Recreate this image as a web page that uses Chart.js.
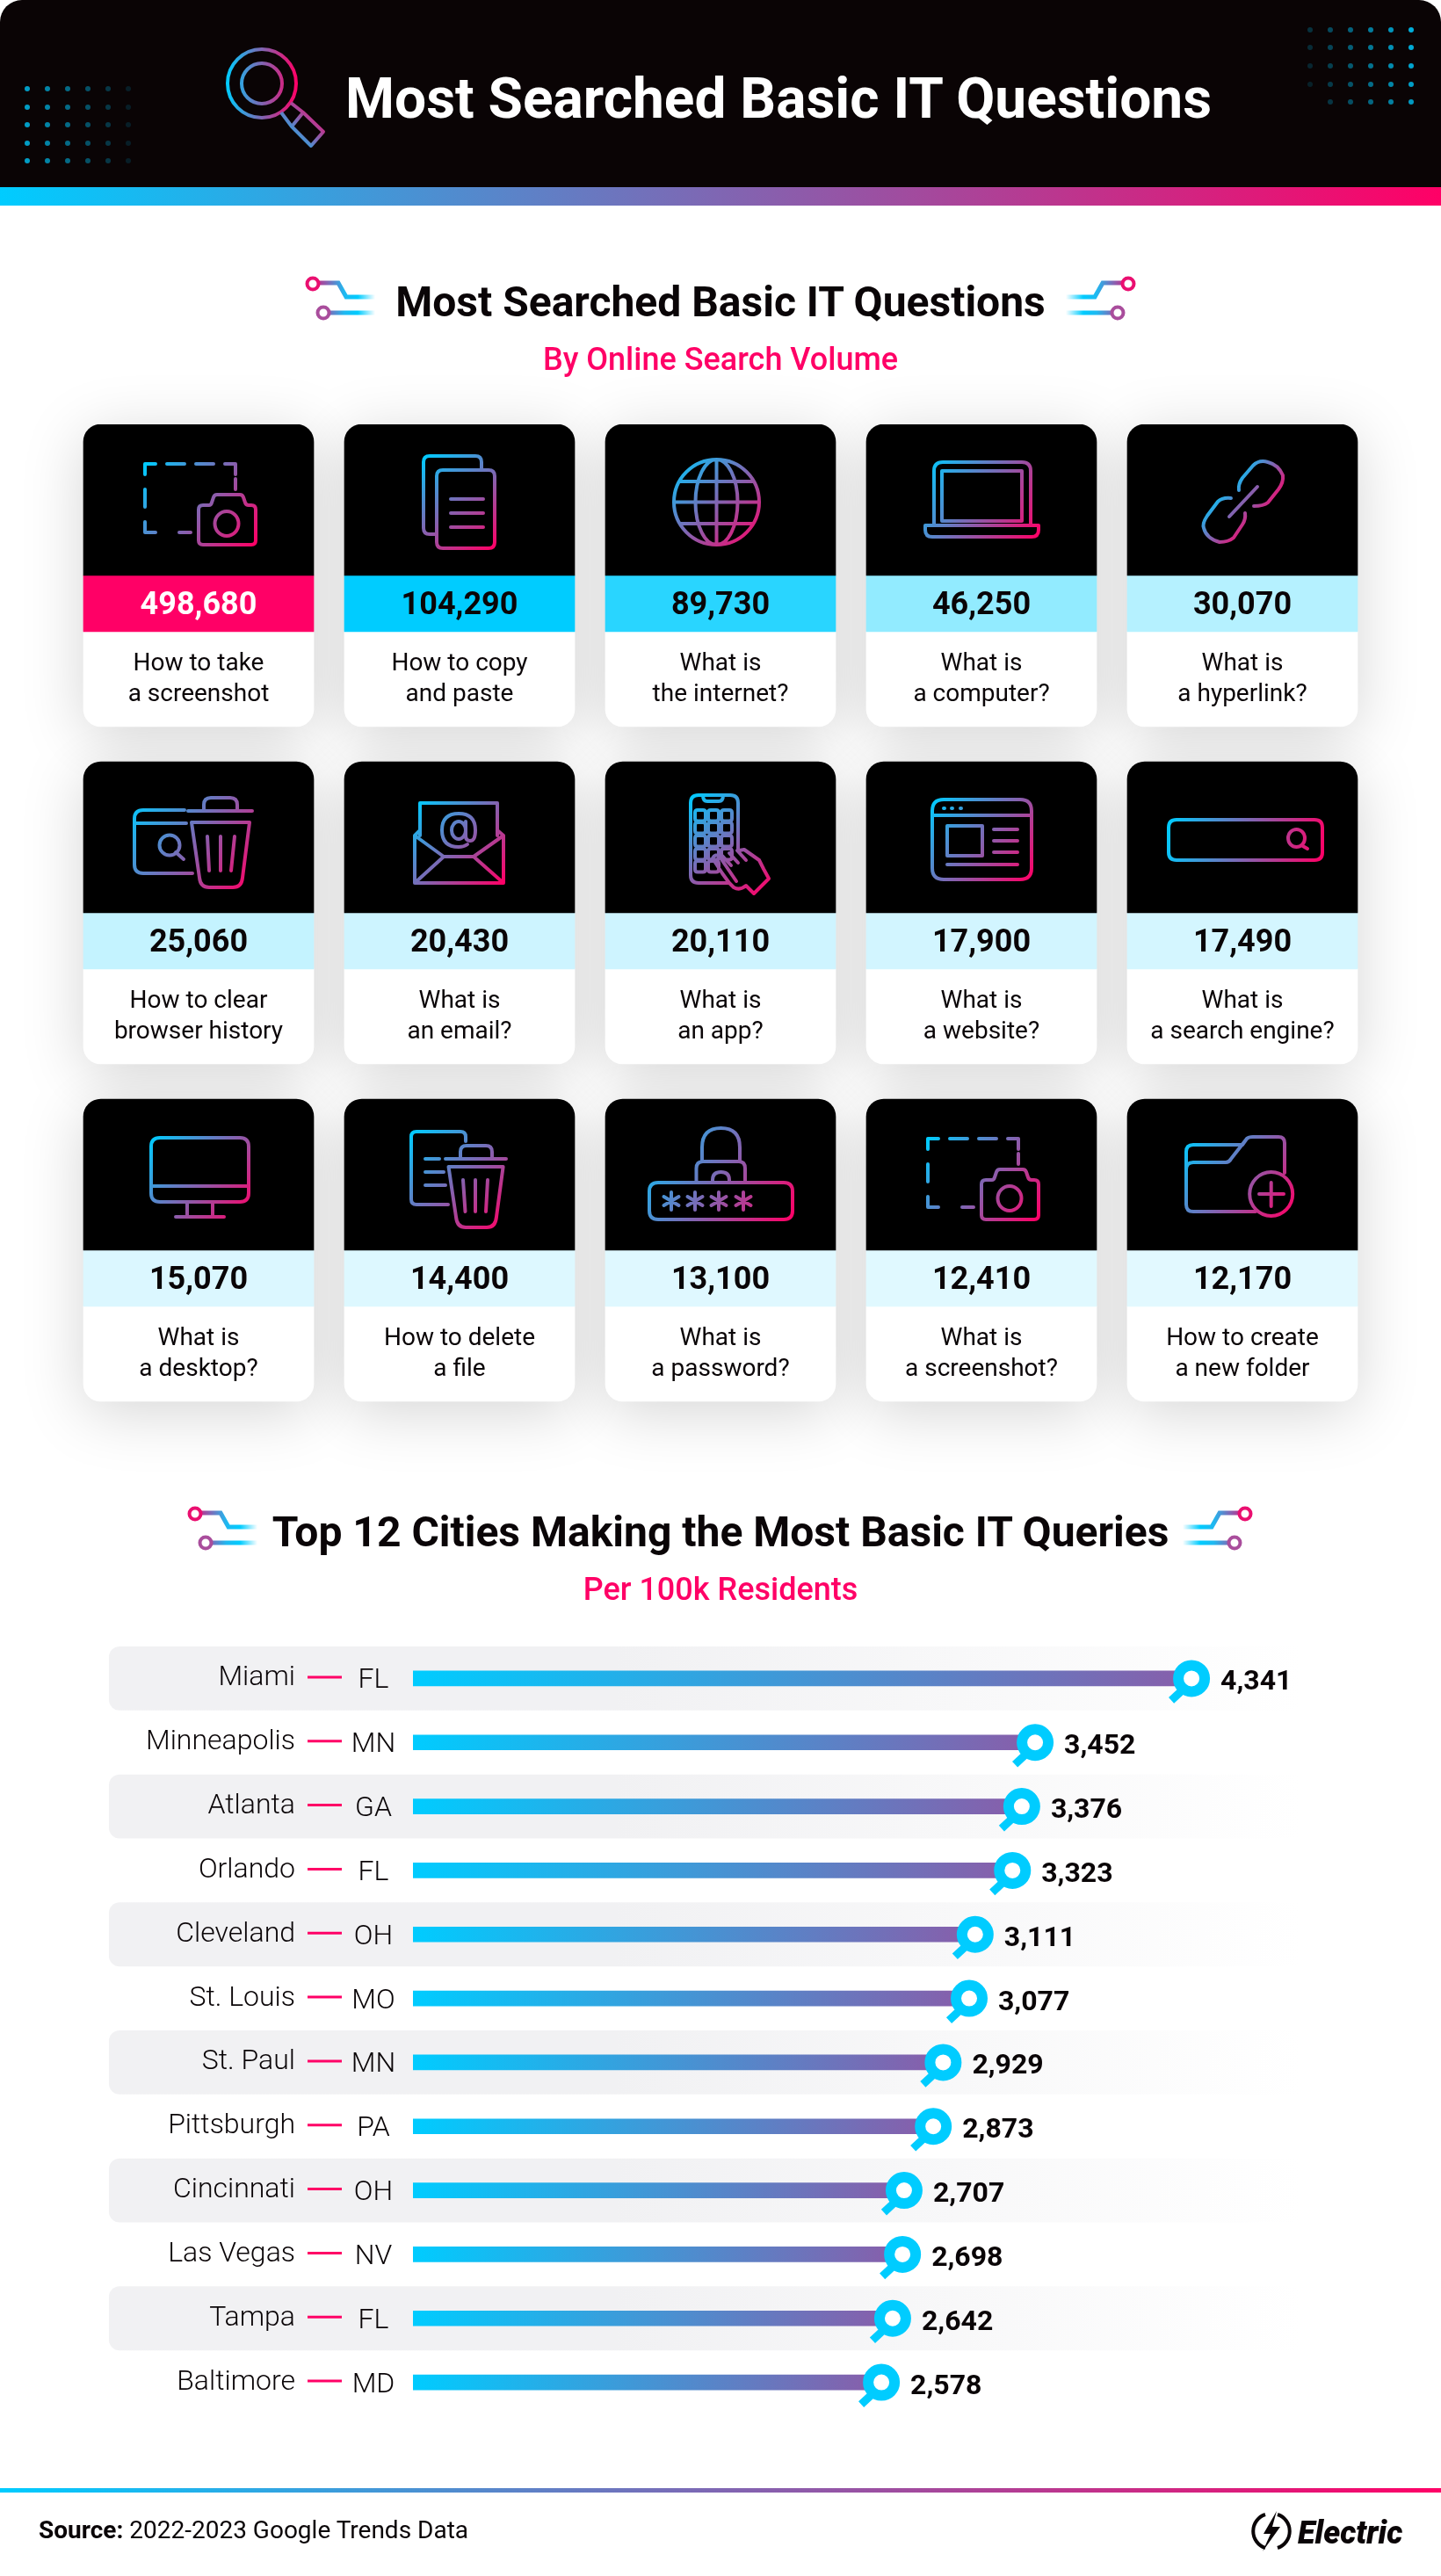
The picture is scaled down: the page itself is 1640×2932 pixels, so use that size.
<!DOCTYPE html>
<html>
<head>
<meta charset="utf-8">
<title>Most Searched Basic IT Questions</title>
<script src="https://cdn.jsdelivr.net/npm/chart.js@4"></script>
<style>
    html, body { margin: 0; padding: 0; background: #fff; }
    body { position: relative; width: 1640px; height: 2932px; overflow: hidden; font-family: Roboto, sans-serif; color: #0a0507; }
    .abs { position: absolute; line-height: 1; white-space: nowrap; }
    .center { left: 0; width: 1640px; text-align: center; }
    .head-bg { position: absolute; left: 0; top: 0; width: 1640px; height: 213px; background: #0a0405; border-radius: 25px 25px 0 0; }
    .strip { position: absolute; left: 0; width: 1640px; background: linear-gradient(90deg, #00ccff, #ff0066); }
    canvas { position: absolute; left: 0; }
    svg { position: absolute; left: 0; top: 0; }
</style>
</head>
<body>
<div class="head-bg"></div>
<div class="strip" style="top:213px;height:21px"></div>
<div class="strip" style="top:2832px;height:5px"></div>

<canvas id="cardChart" width="1640" height="1300" style="top:400px"></canvas>
<canvas id="cityChart" width="1640" height="874" style="top:1874px"></canvas>
<svg id="decor" width="1640" height="2932" viewBox="0 0 1640 2932" fill="none"></svg>

<div class="abs" style="left:393px;top:81px;font-size:64px;font-weight:700;color:#fff">Most Searched Basic IT Questions</div>
<div class="abs center" style="top:320px;font-size:48px;font-weight:700">Most Searched Basic IT Questions</div>
<div class="abs center" style="top:391px;font-size:36px;font-weight:500;color:#ff0066">By Online Search Volume</div>
<div class="abs center" style="top:1720px;font-size:48px;font-weight:700">Top 12 Cities Making the Most Basic IT Queries</div>
<div class="abs center" style="top:1791px;font-size:36px;font-weight:500;color:#ff0066">Per 100k Residents</div>
<div class="abs" style="left:44px;top:2866px;font-size:28px"><b>Source:</b> 2022-2023 Google Trends Data</div>
<div class="abs" style="left:1477px;top:2865px;font-size:36px;font-weight:900;font-style:italic">Electric</div>

<script>
// Search volume cards
const searchVolumes = [498680, 104290, 89730, 46250, 30070, 25060, 20430, 20110, 17900, 17490, 15070, 14400, 13100, 12410, 12170];
const searchQuestions = [
    ['How to take', 'a screenshot'], ['How to copy', 'and paste'], ['What is', 'the internet?'], ['What is', 'a computer?'], ['What is', 'a hyperlink?'],
    ['How to clear', 'browser history'], ['What is', 'an email?'], ['What is', 'an app?'], ['What is', 'a website?'], ['What is', 'a search engine?'],
    ['What is', 'a desktop?'], ['How to delete', 'a file'], ['What is', 'a password?'], ['What is', 'a screenshot?'], ['How to create', 'a new folder']
];
const bandColours = ['#ff0066', '#00ccff', '#29d5ff', '#92ebff', '#b5f1ff', '#c4f3ff', '#cdf4ff', '#cef4ff', '#d2f5ff', '#d4f6ff', '#dbf7ff', '#ddf8ff', '#dff8ff', '#e0f9ff', '#e2f9ff'];
const cardColumns = ['1', '2', '3', '4', '5'];
const cardRows = [0, 1, 2];

// Cities per 100k residents
const cityNames = ['Miami', 'Minneapolis', 'Atlanta', 'Orlando', 'Cleveland', 'St. Louis', 'St. Paul', 'Pittsburgh', 'Cincinnati', 'Las Vegas', 'Tampa', 'Baltimore'];
const cityStates = ['FL', 'MN', 'GA', 'FL', 'OH', 'MO', 'MN', 'PA', 'OH', 'NV', 'FL', 'MD'];
const cityQueries = [4341, 3452, 3376, 3323, 3111, 3077, 2929, 2873, 2707, 2698, 2642, 2578];

const CYAN = '#00ccff';
const PINK = '#ff0066';
const INK = '#0a0507';

// Icon path helpers, coordinates are relative to the card
function rr(x, y, w, h, r) {
    return `M${x + r} ${y}H${x + w - r}Q${x + w} ${y} ${x + w} ${y + r}V${y + h - r}Q${x + w} ${y + h} ${x + w - r} ${y + h}H${x + r}Q${x} ${y + h} ${x} ${y + h - r}V${y + r}Q${x} ${y} ${x + r} ${y}Z`;
}
function ell(cx, cy, rx, ry) {
    return `M${cx - rx} ${cy}A${rx} ${ry} 0 1 0 ${cx + rx} ${cy}A${rx} ${ry} 0 1 0 ${cx - rx} ${cy}Z`;
}
function star(cx, cy) {
    return `M${cx} ${cy - 10}V${cy + 10}M${cx - 8.5} ${cy - 5}L${cx + 8.5} ${cy + 5}M${cx - 8.5} ${cy + 5}L${cx + 8.5} ${cy - 5}`;
}

const shotIcon = 'M70 57V45H82M95 45H115M128 45H148M161 45H173V57M173 62V74M70 74V94M70 111V123H82M109 123H122' +
    'M136 92H143Q145 92 146 89L148 83Q149 80 152 80H178Q181 80 182 83L184 89Q185 92 188 92H191Q196 92 196 97V132Q196 137 191 137H136Q131 137 131 132V97Q131 92 136 92Z' + ell(163, 113, 13.5, 14);

let appGrid = '';
[108, 123, 138].forEach((x, c) => {
    [61, 75, 90, 105, 119].forEach((y, r) => {
        if (r < 4 || c < 2) appGrid += rr(x - 6, y - 6, 12, 12.5, 3);
    });
});

// every icon is a list of [path, gradient box] parts
const cardIcons = [
    [[shotIcon, [70, 45, 196, 137]]],
    [['M105 125H97Q90 125 90 118V43Q90 36 97 36H149Q156 36 156 43V52' + rr(105, 52, 66, 89, 7) + 'M121 85H158M121 101H158M121 117H158', [90, 36, 171, 141]]],
    [[ell(126.5, 88.5, 48.5, 48.5) + ell(126.5, 88.5, 24, 48.5) + 'M126.5 40V137M78 88.5H175M85 65H168M85 113H168', [78, 40, 175, 137]]],
    [['M77 115V53Q77 43 87 43H177Q187 43 187 53V115M86 53H177V110H86ZM67 115H196V120Q196 128 188 128H75Q67 128 67 120Z', [67, 43, 196, 128]]],
    [
        ['M127 75Q126 68 131 61L143 47Q150 40 160 43Q172 46 177 58Q178 66 172 74L160 89Q155 93 144 93', [125, 50, 178, 85]],
        ['M118 84Q108 83 103 88L91 104Q85 113 87 118Q90 130 105 134Q115 134 121 129L131 114Q135 108 134 101', [88, 90, 134, 132]],
        ['M148 71L116 105', [70, 40, 190, 130]]
    ],
    [['M115 55H68Q58 55 58 65V117Q58 127 68 127H124M58 70H117' + ell(98, 95, 11.5, 11.5) + 'M105 103L114 111M119 56H192M137 56V49Q137 41 145 41H167Q175 41 175 49V56M123 69H189L181 132Q180 143 170 143H143Q133 143 132 132ZM141 85L143 124M156 85V124M172 85L168 124', [58, 41, 192, 143]]],
    [['M86 84V47H174V84M86 78L80 84V138H181V84L174 78M80 84L113 108H147L181 84M80 138L113 108M147 108L181 138' + ell(130, 78, 8, 10) + 'M138 68V84Q138 90 143 90Q149 90 149 78Q149 59 130 59Q111 59 111 78Q111 97 130 97Q136 97 140 94', [80, 47, 181, 138]]],
    [['M140 138H106Q97 138 97 129V47Q97 38 106 38H142Q151 38 151 47V100M111 38Q111 45 116 45H129Q134 45 134 38' + appGrid + 'M122 110Q125 104 130 108L149 136M122 110L133 127L141 138L146 143Q153 147 160 141L169 150L186 133L180 122L175 112L158 100L152 101M133 107L143 118M141 104L151 115M150 101L160 112', [97, 38, 186, 150]]],
    [[rr(75, 43, 113, 91, 13) + 'M75 61H188M92 73H132V107H92ZM145 77H172M145 90H172M145 103H172M92 117H172M88 53H89M97 53H98M107 53H108', [75, 43, 188, 134]]],
    [[rr(47, 66, 175, 46, 9) + ell(192.5, 87, 9.5, 10) + 'M198 95L205 99', [47, 66, 222, 112]]],
    [[rr(77, 44, 111, 73, 10) + 'M77 99H188M118 117V134M147 117V134M105 134H160', [77, 44, 188, 134]]],
    [['M118 120H82Q76 120 76 114V43Q76 37 82 37H132Q138 37 138 43V48M92 68H108M92 83H113M92 98H115M115 68H184M132 68V60Q132 53 139 53H161Q168 53 168 60V68M118.5 77H180.6L173 134Q172 146 162 146H138Q128 146 127 134ZM135 92L137.5 128M149 92V128M163 92L161 128', [76, 37, 184, 146]]],
    [[rr(50, 95, 163, 42, 10) + 'M110 71V55Q110 33 131.5 33Q153 33 153 55V71M103.5 95V79Q103.5 71 111 71H152Q159 71 159 79V95M122 95V92Q122 83 131.5 83Q141 83 141 92V95' + star(75, 116) + star(102, 116) + star(129, 116) + star(157, 116), [50, 33, 213, 137]]],
    [[shotIcon, [70, 45, 196, 137]]],
    [['M146 128H75Q67 128 67 120V60Q67 52 75 52H131L136 45Q138 43 143 43H172Q179 43 179 50V84M136 45L118 68Q116 72 112 72H75Q67 72 67 80' + ell(163.7, 108, 24.5, 25) + 'M150 108H178M163.7 95V122', [67, 43, 188, 133]]]
];

// Floating bars build the three parts of every card
const HEAD_END = 172 / 384;
const BAND_END = 236 / 384;
const CARD_END = 344 / 384;
const cardDatasets = [];
cardRows.forEach(row => {
    const rowColours = bandColours.slice(row * 5, row * 5 + 5);
    cardDatasets.push({ data: cardColumns.map(() => [row, row + HEAD_END]), backgroundColor: '#000', borderSkipped: false, borderRadius: { topLeft: 20, topRight: 20, bottomLeft: 0, bottomRight: 0 }, barThickness: 262, grouped: false });
    cardDatasets.push({ data: cardColumns.map(() => [row + HEAD_END, row + BAND_END]), backgroundColor: rowColours, barThickness: 262, grouped: false, borderSkipped: false });
    cardDatasets.push({ data: cardColumns.map(() => [row + BAND_END, row + CARD_END]), backgroundColor: '#fff', borderSkipped: false, borderRadius: { topLeft: 0, topRight: 0, bottomLeft: 20, bottomRight: 20 }, barThickness: 262, grouped: false });
});

const cardPlugin = {
    id: 'cardPlugin',
    beforeDatasetsDraw(chart) {
        const { ctx, scales: { y } } = chart;
        const head = chart.getDatasetMeta(0).data;
        ctx.save();
        ctx.shadowColor = 'rgba(0, 0, 0, 0.17)';
        ctx.shadowBlur = 70;
        ctx.shadowOffsetY = 12;
        ctx.fillStyle = '#fff';
        cardRows.forEach(row => {
            head.forEach(el => {
                const top = y.getPixelForValue(row);
                ctx.beginPath();
                ctx.roundRect(el.x - 131, top, 262, y.getPixelForValue(row + CARD_END) - top, 20);
                ctx.fill();
            });
        });
        ctx.restore();
    },
    afterDatasetsDraw(chart) {
        const { ctx, scales: { y } } = chart;
        ctx.save();
        ctx.textAlign = 'center';
        cardRows.forEach(row => {
            const top = y.getPixelForValue(row);
            chart.getDatasetMeta(row * 3).data.forEach((el, col) => {
                const i = row * 5 + col;
                const left = el.x - 131;

                // value band
                ctx.fillStyle = i === 0 ? '#fff' : INK;
                ctx.font = '700 36px Roboto';
                ctx.fillText(searchVolumes[i].toLocaleString('en-US'), el.x, top + 216);

                // question
                ctx.fillStyle = INK;
                ctx.font = '400 28px Roboto';
                ctx.fillText(searchQuestions[i][0], el.x, top + 280);
                ctx.fillText(searchQuestions[i][1], el.x, top + 315);

                // icon
                ctx.save();
                ctx.translate(left, top);
                ctx.lineWidth = 4;
                ctx.lineCap = 'round';
                ctx.lineJoin = 'round';
                cardIcons[i].forEach(([path, box]) => {
                    const grad = ctx.createLinearGradient(box[0], box[1], box[2], box[3]);
                    grad.addColorStop(0, CYAN);
                    grad.addColorStop(1, PINK);
                    ctx.strokeStyle = grad;
                    ctx.stroke(new Path2D(path));
                });
                ctx.restore();
            });
        });
        ctx.restore();
    }
};

new Chart(document.getElementById('cardChart'), {
    type: 'bar',
    data: { labels: cardColumns, datasets: cardDatasets },
    options: {
        responsive: false,
        animation: false,
        devicePixelRatio: 1,
        layout: { padding: { left: 77.5, right: 77.5, top: 83, bottom: 65 } },
        plugins: { legend: { display: false }, tooltip: { enabled: false } },
        scales: {
            x: { display: false },
            y: { display: false, min: 0, max: 3, reverse: true }
        }
    },
    plugins: [cardPlugin]
});

// Stripes, state codes, magnifiers and value labels of the city chart
const cityPlugin = {
    id: 'cityPlugin',
    beforeDraw(chart) {
        const { ctx, scales: { y } } = chart;
        const stripe = ctx.createLinearGradient(700, 0, 1480, 0);
        stripe.addColorStop(0, '#f1f1f3');
        stripe.addColorStop(1, '#ffffff');
        const half = (y.getPixelForValue(1) - y.getPixelForValue(0)) / 2;
        ctx.save();
        cityNames.forEach((name, i) => {
            if (i % 2 === 0) {
                ctx.fillStyle = stripe;
                ctx.beginPath();
                ctx.roundRect(124, y.getPixelForValue(i) - half, 1356, half * 2, [12, 0, 0, 12]);
                ctx.fill();
            }
        });
        ctx.restore();
    },
    afterDatasetsDraw(chart) {
        const { ctx, scales: { y } } = chart;
        ctx.save();
        chart.getDatasetMeta(0).data.forEach((bar, i) => {
            const cy = y.getPixelForValue(i);

            ctx.strokeStyle = PINK;
            ctx.lineWidth = 3;
            ctx.beginPath();
            ctx.moveTo(350, cy - 1.5);
            ctx.lineTo(389, cy - 1.5);
            ctx.stroke();

            ctx.fillStyle = INK;
            ctx.font = '300 32px Roboto';
            ctx.textAlign = 'center';
            ctx.textBaseline = 'alphabetic';
            ctx.fillText(cityStates[i], 425, cy + 11);

            // magnifier at the end of the bar
            const mx = bar.x + 17;
            ctx.strokeStyle = CYAN;
            ctx.lineWidth = 9;
            ctx.beginPath();
            ctx.moveTo(mx - 9, cy + 12);
            ctx.lineTo(mx - 23, cy + 25);
            ctx.stroke();
            ctx.fillStyle = '#fff';
            ctx.lineWidth = 12;
            ctx.beginPath();
            ctx.arc(mx, cy, 15, 0, Math.PI * 2);
            ctx.fill();
            ctx.stroke();

            ctx.fillStyle = INK;
            ctx.font = '700 32px Roboto';
            ctx.textAlign = 'left';
            ctx.fillText(cityQueries[i].toLocaleString('en-US'), bar.x + 50, cy + 13);
        });
        ctx.restore();
    }
};

new Chart(document.getElementById('cityChart'), {
    type: 'bar',
    data: {
        labels: cityNames,
        datasets: [{
            data: cityQueries,
            barThickness: 17,
            backgroundColor: function(context) {
                const chart = context.chart;
                if (!chart.chartArea || context.raw === undefined) return CYAN;
                const x = chart.scales.x;
                const grad = chart.ctx.createLinearGradient(x.getPixelForValue(0), 0, x.getPixelForValue(context.raw), 0);
                grad.addColorStop(0, CYAN);
                grad.addColorStop(1, '#8560ac');
                return grad;
            }
        }]
    },
    options: {
        indexAxis: 'y',
        responsive: false,
        animation: false,
        devicePixelRatio: 1,
        layout: { padding: { left: 0, right: 169, top: 0, bottom: 0 } },
        plugins: { legend: { display: false }, tooltip: { enabled: false } },
        scales: {
            x: { display: false, min: 0, max: 5000 },
            y: {
                // tick padding also pads the axis ends, only the width is wanted
                afterFit(scale) {
                    scale.width = 470;
                    scale.paddingTop = 0;
                    scale.paddingBottom = 0;
                },
                grid: { display: false },
                border: { display: false },
                ticks: { autoSkip: false, padding: 126, color: INK, font: { family: 'Roboto', size: 32, weight: '300' } }
            }
        }
    },
    plugins: [cityPlugin]
});

// Header and title decoration
const svg = document.getElementById('decor');
const NS = 'http://www.w3.org/2000/svg';
function addSvg(parent, tag, attrs) {
    const el = document.createElementNS(NS, tag);
    Object.keys(attrs).forEach(k => el.setAttribute(k, attrs[k]));
    parent.appendChild(el);
    return el;
}

const defs = addSvg(svg, 'defs', {});
function addGradient(id, x1, y1, x2, y2, stops) {
    const g = addSvg(defs, 'linearGradient', { id: id, gradientUnits: 'userSpaceOnUse', x1: x1, y1: y1, x2: x2, y2: y2 });
    stops.forEach(s => addSvg(g, 'stop', { offset: s[0], 'stop-color': s[1] }));
}
addGradient('lens', 258, 95, 338, 95, [[0, CYAN], [1, PINK]]);
addGradient('grip', 330, 166, 368, 128, [[0, CYAN], [1, PINK]]);
addGradient('tail', 0, 0, 71, 0, [[0, '#d8197c'], [0.22, '#8a60b0'], [0.5, '#20b8f0'], [0.72, CYAN], [1, '#ffffff']]);

// magnifier in the header
addSvg(svg, 'circle', { cx: 298, cy: 95, r: 39, stroke: 'url(#lens)', 'stroke-width': 4 });
addSvg(svg, 'circle', { cx: 298, cy: 95, r: 23, stroke: 'url(#lens)', 'stroke-width': 4 });
addSvg(svg, 'path', { d: 'M320 128L332 144M331 117L345 128M345 128L368 150L354 166L332 144Z', stroke: 'url(#grip)', 'stroke-width': 4, 'stroke-linejoin': 'round' });

// dot clusters in the header
[31, 54, 77, 100, 123, 146].forEach((x, c) => {
    [101, 122, 142, 163, 183].forEach(y => {
        addSvg(svg, 'circle', { cx: x, cy: y, r: 3, fill: '#00b8e8', opacity: 0.85 - c * 0.14 });
    });
});
[1491, 1514, 1537, 1560, 1583, 1606].forEach((x, c) => {
    [34, 54, 75, 96, 116].forEach((y, r) => {
        const op = 0.25 + c * 0.14 - r * 0.03;
        if (r < 4 || c > 0) addSvg(svg, 'circle', { cx: x, cy: y, r: 3, fill: '#00b8e8', opacity: op });
    });
});

// little circuit ornaments beside the section titles
function addOrnament(x, y, flip) {
    const g = addSvg(svg, 'g', { transform: `translate(${x} ${y}) scale(${flip ? -1 : 1} 1)` });
    addSvg(g, 'path', { d: 'M7 -1H29L38 15H71', stroke: 'url(#tail)', 'stroke-width': 5 });
    addSvg(g, 'path', { d: 'M19 33H71', stroke: 'url(#tail)', 'stroke-width': 5 });
    addSvg(g, 'circle', { cx: 0, cy: 0, r: 6.5, stroke: '#ea0f70', 'stroke-width': 4, fill: '#fff' });
    addSvg(g, 'circle', { cx: 12, cy: 33, r: 6.5, stroke: '#a94d9c', 'stroke-width': 4, fill: '#fff' });
}
addOrnament(356, 323, false);
addOrnament(1284, 323, true);
addOrnament(222, 1723, false);
addOrnament(1417, 1723, true);

// logo mark
addSvg(svg, 'path', { d: 'M1440 2862A20 20 0 0 0 1440 2900M1454 2862A20 20 0 0 1 1454 2900', stroke: INK, 'stroke-width': 4 });
addSvg(svg, 'path', { d: 'M1453 2858L1438 2884H1446L1437 2904L1457 2876H1448Z', fill: INK });
</script>
</body>
</html>
